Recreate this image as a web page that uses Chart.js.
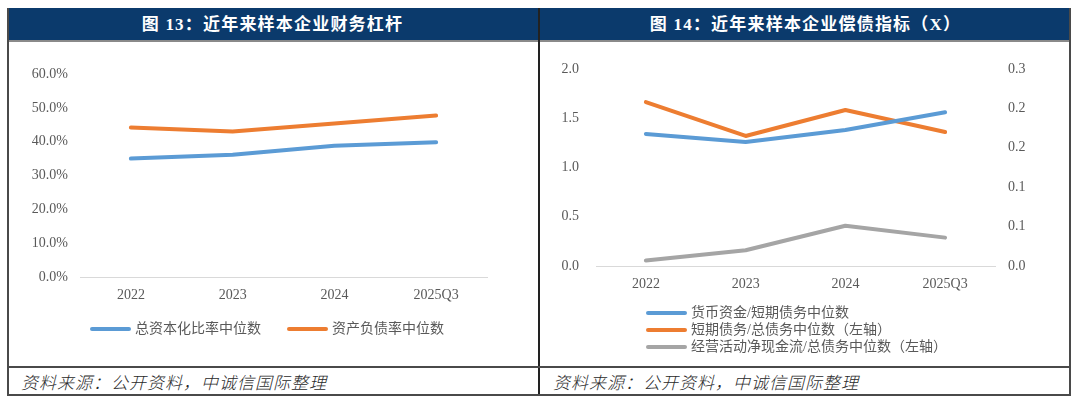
<!DOCTYPE html>
<html>
<head>
<meta charset="utf-8">
<script src="https://cdn.jsdelivr.net/npm/chart.js@4/dist/chart.umd.min.js"></script>
<style>
  html, body { margin:0; padding:0; background:#fff; }
  #root { position:relative; width:1080px; height:406px; overflow:hidden; background:#fff; }
  .hdr { position:absolute; top:8px; height:33px; background:#0b3a6c; color:#fff;
         font-family:"Liberation Serif","Noto Sans CJK SC",serif; font-weight:bold; font-size:17px;
         letter-spacing:1.2px; line-height:33px; text-align:center; }
  .ftr { position:absolute; top:368px; height:27px; line-height:27px; color:#2a2a2a;
         font-family:"Noto Sans CJK SC",sans-serif; font-style:italic; font-weight:300; font-size:17px; letter-spacing:1px; }
  .vline { position:absolute; width:2px; background:#4a4a4a; }
  .hline { position:absolute; height:2px; background:#4a4a4a; }
  .leg { position:absolute; font-family:"Liberation Serif","Noto Sans CJK SC",serif; font-size:14px; color:#595959; white-space:nowrap; }
  .leg .it { position:absolute; height:18px; line-height:18px; }
  .leg .sw { display:inline-block; width:41px; height:4px; border-radius:2px; vertical-align:middle; margin-right:4px; position:relative; top:-1px; }
  canvas { position:absolute; }
</style>
</head>
<body>
<div id="root">
  <div class="hdr" style="left:7px; width:531px;">图 13：近年来样本企业财务杠杆</div>
  <div class="hdr" style="left:540px; width:531px;">图 14：近年来样本企业偿债指标（X）</div>
  <div class="hline" style="left:7px; top:40px; width:1064px; background:#8a8a8a; height:2px;"></div>
  <div class="vline" style="left:7px; top:8px; height:388px;"></div>
  <div class="vline" style="left:538px; top:8px; height:388px; background:#222;"></div>
  <div class="vline" style="left:1069px; top:8px; height:388px;"></div>
  <div class="hline" style="left:7px; top:366px; width:1064px;"></div>
  <div class="hline" style="left:7px; top:394px; width:1064px;"></div>
  <div class="ftr" style="left:21px;">资料来源：公开资料，中诚信国际整理</div>
  <div class="ftr" style="left:553px;">资料来源：公开资料，中诚信国际整理</div>

  <canvas id="c1" width="529" height="324" style="left:9px; top:42px;"></canvas>
  <canvas id="c2" width="529" height="324" style="left:540px; top:42px;"></canvas>
  <div class="leg" id="leg1"></div>
  <div class="leg" id="leg2"></div>
</div>
<script>
// ---- data ----
const categories = ['2022', '2023', '2024', '2025Q3'];
// Figure 13 (%)
const capRatioMedian = [35.0, 36.1, 38.8, 39.8];       // 总资本化比率中位数
const debtAssetRatioMedian = [44.2, 43.0, 45.4, 47.7]; // 资产负债率中位数
// Figure 14 (X)
const cashToShortDebt = [1.34, 1.26, 1.38, 1.56];       // 货币资金/短期债务中位数
const shortToTotalDebt = [0.208, 0.165, 0.198, 0.170];  // 短期债务/总债务中位数
const opCashToTotalDebt = [0.007, 0.020, 0.051, 0.036]; // 经营活动净现金流/总债务中位数
const leftTicks13 = [0, 10, 20, 30, 40, 50, 60];
const rightTickLabels14 = ['0.0', '0.1', '0.1', '0.2', '0.2', '0.3'];

const BLUE = '#5B9BD5', ORANGE = '#ED7D31', GREY = '#A5A5A5';
const tickFont = { family: '"Liberation Serif","Times New Roman",serif', size: 14 };
const tickColor = '#595959';

function lineDs(label, data, color, axis) {
  return { label, data, borderColor: color, backgroundColor: color, borderWidth: 4,
           pointRadius: 0, pointHoverRadius: 0, tension: 0, borderCapStyle: 'round',
           borderJoinStyle: 'round', fill: false, yAxisID: axis };
}

// ---- Chart 13 ----
const chart1 = new Chart(document.getElementById('c1'), {
  type: 'line',
  data: { labels: categories, datasets: [
    lineDs('总资本化比率中位数', capRatioMedian, BLUE, 'y'),
    lineDs('资产负债率中位数', debtAssetRatioMedian, ORANGE, 'y')
  ]},
  options: {
    responsive: false, animation: false, devicePixelRatio: 1,
    layout: { padding: { top: 32, left: 0, right: 51, bottom: 0 } },
    plugins: { legend: { display: false }, tooltip: { enabled: false } },
    scales: {
      x: { offset: true, grid: { display: false, drawTicks: false },
           border: { display: true, color: '#d9d9d9', width: 1 },
           ticks: { font: tickFont, color: tickColor, padding: 10, maxRotation: 0 },
           afterFit: s => { s.height = 89; } },
      y: { min: 0, max: 60, grid: { display: false, drawTicks: false }, border: { display: false },
           afterBuildTicks: s => { s.ticks = leftTicks13.map(v => ({ value: v })); },
           ticks: { font: tickFont, color: tickColor, padding: 12,
                    callback: v => Number(v).toFixed(1) + '%' },
           afterFit: s => { s.width = 71; } }
    }
  }
});

// ---- Chart 14 ----
const chart2 = new Chart(document.getElementById('c2'), {
  type: 'line',
  data: { labels: categories, datasets: [
    lineDs('货币资金/短期债务中位数', cashToShortDebt, BLUE, 'y'),
    lineDs('短期债务/总债务中位数（左轴）', shortToTotalDebt, ORANGE, 'y1'),
    lineDs('经营活动净现金流/总债务中位数（左轴）', opCashToTotalDebt, GREY, 'y1')
  ]},
  options: {
    responsive: false, animation: false, devicePixelRatio: 1,
    layout: { padding: { top: 27, left: 0, right: 0, bottom: 0 } },
    plugins: { legend: { display: false }, tooltip: { enabled: false } },
    scales: {
      x: { offset: true, grid: { display: false, drawTicks: false },
           border: { display: true, color: '#d9d9d9', width: 1 },
           ticks: { font: tickFont, color: tickColor, padding: 10, maxRotation: 0 },
           afterFit: s => { s.height = 100; } },
      y: { position: 'left', min: 0, max: 2, grid: { display: false, drawTicks: false }, border: { display: false },
           ticks: { stepSize: 0.5, font: tickFont, color: tickColor, padding: 17,
                    callback: v => Number(v).toFixed(1) },
           afterFit: s => { s.width = 56; } },
      y1: { position: 'right', min: 0, max: 0.25, grid: { display: false, drawTicks: false }, border: { display: false },
            afterBuildTicks: s => { s.ticks = rightTickLabels14.map((t, i) => ({ value: i * 0.05 })); },
            ticks: { font: tickFont, color: tickColor, padding: 13,
                     callback: (v, i) => rightTickLabels14[i] },
            afterFit: s => { s.width = 74; } }
    }
  }
});

// ---- HTML legends built from the datasets ----
function buildLegend(el, chart, positions) {
  chart.data.datasets.forEach((ds, i) => {
    const it = document.createElement('div');
    it.className = 'it';
    it.style.left = positions[i][0] + 'px';
    it.style.top = positions[i][1] + 'px';
    const sw = document.createElement('span');
    sw.className = 'sw';
    sw.style.background = ds.borderColor;
    it.appendChild(sw);
    it.appendChild(document.createTextNode(ds.label));
    el.appendChild(it);
  });
}
buildLegend(document.getElementById('leg1'), chart1, [[90, 320], [287, 320]]);
buildLegend(document.getElementById('leg2'), chart2, [[646, 304], [646, 321], [646, 338]]);
</script>
</body>
</html>
